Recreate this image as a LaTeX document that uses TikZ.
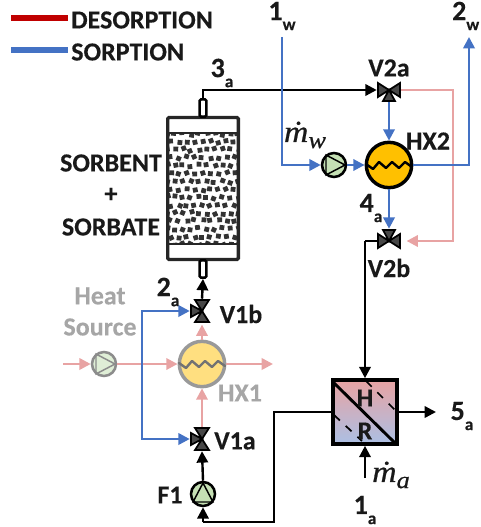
\documentclass[tikz,border=0pt]{standalone}
\usepackage{fontspec}
\setmainfont{Carlito}[BoldFont={Carlito Bold},BoldFeatures={FakeBold=0.3}]
\newfontfamily\mfont{Liberation Serif}[ItalicFeatures={FakeBold=0.7,FakeStretch=1.1}]
\usetikzlibrary{arrows.meta,shadings}
\definecolor{cblue}{HTML}{4472C4}
\definecolor{cred}{HTML}{C00000}
\definecolor{cpink}{HTML}{E8A3A3}
\definecolor{cgreen}{HTML}{C5E0B4}
\definecolor{cgold}{HTML}{FFC000}
\definecolor{cfade}{HTML}{A6A6A6}
\newcommand{\subt}[1]{\raisebox{-0.36em}{\fontsize{13pt}{13pt}\selectfont #1}}
\newcommand{\mflow}[1]{{\mfont\mdseries\itshape\fontsize{23pt}{23pt}\selectfont ṁ\raisebox{-0.2em}{\fontsize{18pt}{18pt}\selectfont #1}}}
\tikzset{
  lbl/.style={font=\fontsize{19.5pt}{19.5pt}\selectfont\bfseries,inner sep=0pt,text=black!90},
  numl/.style={font=\fontsize{21pt}{21pt}\selectfont\bfseries,inner sep=0pt,text=black!90},
  fadelbl/.style={lbl,text=cfade},
  tip/.style={-{Triangle[length=8.5pt,width=8.5pt]}},
  bluel/.style={draw=cblue,line width=1.9pt},
  pinkl/.style={draw=cpink,line width=1.9pt},
  blackl/.style={draw=black,line width=1.8pt},
  pumpn/.style={circle,draw=black,line width=1.9pt,fill=cgreen,minimum size=18pt,inner sep=0pt},
  pumpfade/.style={circle,draw=black!45,line width=1.9pt,fill=cgreen!55,minimum size=18pt,inner sep=0pt},
  hxn/.style={circle,draw=black,line width=2.6pt,fill=cgold,minimum size=34pt,inner sep=0pt},
  hxfade/.style={circle,draw=black!40,line width=2.6pt,fill=cgold!50,minimum size=34pt,inner sep=0pt},
  valven/.style={rectangle,minimum size=18pt,inner sep=0pt},
  nozzle/.style={rectangle,draw=black,line width=1.9pt,rounded corners=1pt,fill=white,minimum width=5pt,inner sep=0pt},
  pics/valve/.style={code={
    \draw[fill=black!72,draw=black,line width=1.3pt,line join=miter]
      (0,0)--(-11,-7)--(-11,7)--cycle (0,0)--(11,-7)--(11,7)--cycle (0,0)--(-6,11)--(6,11)--cycle;}},
  pics/pumptri/.style={code={
    \draw[line width=1.1pt,draw=#1,fill=none] (-8,-10)--(11,0)--(-8,10)--cycle;}},
  pics/wave/.style={code={
    \draw[line width=1.8pt,draw=#1,line join=round,line cap=round]
      (-23,-1)--(-16,4)--(-10,-3)--(-3,3)--(3,-3)--(10,3)--(16,-3)--(23,2);}}
}
\begin{document}
\begin{tikzpicture}[x=0.75pt,y=-0.75pt]
\useasboundingbox (0,0) rectangle (480,527);
% legend
\coordinate (ra) at (11,18); \coordinate (rb) at (68,18);
\coordinate (ba) at (11,50); \coordinate (bb) at (68,50);
\draw[draw=cred,line width=5pt] (ra)--(rb);
\draw[draw=cblue,line width=5pt] (ba)--(bb);
\node[lbl,anchor=west] (tdes) at (71,20) {DESORPTION};
\node[lbl,anchor=west] (tsor) at (71,52) {SORPTION};
% column
\node[rectangle,minimum width=53pt,minimum height=106.5pt,inner sep=0pt,fill=white] (col) at (203,188.5) {};
\begin{scope}
\clip (168,133) rectangle (238,244);
\pgfmathsetseed{5}
\foreach \r in {0,...,14}{
  \foreach \c in {0,...,9}{
    \pgfmathsetmacro{\px}{167+\c*7.9+mod(\r,2)*3.9+1.5*rand}
    \pgfmathsetmacro{\py}{134+\r*7.9+1.5*rand}
    \pgfmathsetmacro{\pa}{25*rand}
    \fill[black!80,rotate around={\pa:(\px,\py)}] (\px-2.4,\py-2.4) rectangle (\px+2.4,\py+2.4);
  }}
\end{scope}
\node[rectangle,draw=black!85,line width=2.5pt,rounded corners=1pt,minimum width=53pt,minimum height=106.5pt,inner sep=0pt] (colb) at (203,188.5) {};
\coordinate (bandtl) at (166,133); \coordinate (bandtr) at (240,133);
\coordinate (bandbl) at (166,244); \coordinate (bandbr) at (240,244);
\draw[black!85,line width=1.6pt] (bandtl)--(bandtr) (bandbl)--(bandbr);
\node[nozzle,minimum height=13pt] (nt) at (203,108) {};
\node[nozzle,minimum height=13pt] (nb) at (203,269) {};
% equipment anchors
\node[valven] (v2a) at (389,90) {};
\node[valven] (v2b) at (389,241) {};
\node[valven] (v1a) at (202,439) {};
\node[valven] (v1b) at (202,311) {};
\node[pumpn] (p2) at (334,165) {};
\node[pumpfade] (p1) at (104,364) {};
\node[pumpn] (f1) at (203,494) {};
\node[hxn] (hx2) at (389,165) {};
\node[hxfade] (hx1) at (202,364) {};
\node[rectangle,draw=black,line width=2.7pt,top color=cpink,bottom color=cblue!45,minimum size=48pt,inner sep=0pt] (rec) at (365,412) {};
% free ends and bends
\coordinate (w1) at (282,37);
\coordinate (w1b) at (282,165);
\coordinate (w2) at (469,37);
\coordinate (w2b) at (469,165);
\coordinate (pk1) at (453,90);
\coordinate (pk2) at (453,241);
\coordinate (bl1) at (365,241);
\coordinate (fa) at (274,412);
\coordinate (fb) at (274,522);
\coordinate (fc) at (203,522);
\coordinate (out5) at (436,412);
\coordinate (in1) at (365,478);
\coordinate (hsin) at (63,364);
\coordinate (hsout) at (273,364);
\coordinate (sa) at (142,311);
\coordinate (sc) at (142,439);
% pink
\draw[pinkl,tip] (hsin)--(p1);
\draw[pinkl,tip] (p1)--(hx1);
\draw[pinkl,tip] (hx1)--(hsout);
\draw[pinkl,tip] (v1a)--(hx1);
\draw[pinkl,tip,shorten >=1pt] (hx1)--(v1b.south);
\draw[pinkl,tip,shorten >=4pt] (v2a.east)--(pk1)--(pk2)--(v2b.east);
% black
\draw[blackl,tip] (nt.north) |- (v2a.west);
\draw[blackl] (v2b.west)--(bl1);
\draw[blackl,tip] (bl1)--(rec.north);
\draw[blackl] (rec.west)--(fa)--(fb)--(fc);
\draw[blackl,tip] (fc)--(f1.south);
\draw[blackl,tip] (f1.north)--(v1a.south);
\draw[blackl,tip] (v1b.north)--(nb.south);
\draw[blackl,tip] (rec.east)--(out5);
\draw[blackl,tip] (in1)--(rec.south);
% blue
\draw[bluel,tip] (w1)--(w1b)--(p2);
\draw[bluel,tip] (p2)--(hx2);
\draw[bluel,tip] (v2a.south)--(hx2.north);
\draw[bluel,tip] (hx2)--(w2b)--(w2);
\draw[bluel,tip] (hx2.south)--(v2b.north);
\draw[bluel,tip] (sc)--(sa)--(v1b);
\draw[bluel,tip] (sa)--(sc)--(v1a);
% symbols on top
\pic[rotate=0] at (v2a) {valve};
\pic[rotate=180] at (v2b) {valve};
\pic[rotate=-90] at (v1a) {valve};
\pic[rotate=-90] at (v1b) {valve};
\pic at (p2) {pumptri=black};
\pic at (p1) {pumptri=black!45};
\pic[rotate=90] at (f1) {pumptri=black};
\pic at (hx2) {wave=black};
\pic at (hx1) {wave=black!55};
% recuperator lines
\coordinate (d1) at (333,382); \coordinate (d2) at (395,443);
\coordinate (d3) at (366,381); \coordinate (d4) at (396,411);
\coordinate (d5) at (334,415); \coordinate (d6) at (362,441);
\draw[black,line width=2.2pt] (d1)--(d2);
\draw[black,line width=1.3pt,dash pattern=on 6pt off 6pt] (d3)--(d4);
\draw[black,line width=1.3pt,dash pattern=on 6pt off 6pt] (d5)--(d6);
% labels
\node[numl] (t1w) at (282,16) {1\subt{w}};
\node[numl,anchor=east] (t2w) at (479.5,16) {2\subt{w}};
\node[numl] (t3a) at (222,73) {3\subt{a}};
\node[lbl] (tv2a) at (389,68) {V2a};
\node[lbl] (thx2) at (428,141) {HX2};
\node[numl] (t4a) at (371,208) {4\subt{a}};
\node[lbl] (tv2b) at (389,268) {V2b};
\node[lbl] (tmw) at (305,135) {\mflow{w}};
\node[lbl] (ts1) at (111,163) {SORBENT};
\node[lbl] (ts2) at (111,195) {+};
\node[lbl] (ts3) at (111,227) {SORBATE};
\node[numl] (t2a) at (168,292) {2\subt{a}};
\node[lbl] (tv1b) at (241,314) {V1b};
\node[fadelbl] (th1) at (100,296) {Heat};
\node[fadelbl] (th2) at (100,327) {Source};
\node[fadelbl] (thx1) at (240,393) {HX1};
\node[lbl] (tv1a) at (235,441) {V1a};
\node[lbl] (tf1) at (170,495) {F1};
\node[lbl] (th) at (365,398) {H};
\node[lbl] (tr) at (365,431) {R};
\node[numl] (t5a) at (462,416) {5\subt{a}};
\node[lbl] (tma) at (391,475) {\mflow{a}};
\node[numl] (t1a) at (365,510) {1\subt{a}};
\end{tikzpicture}
\end{document}
